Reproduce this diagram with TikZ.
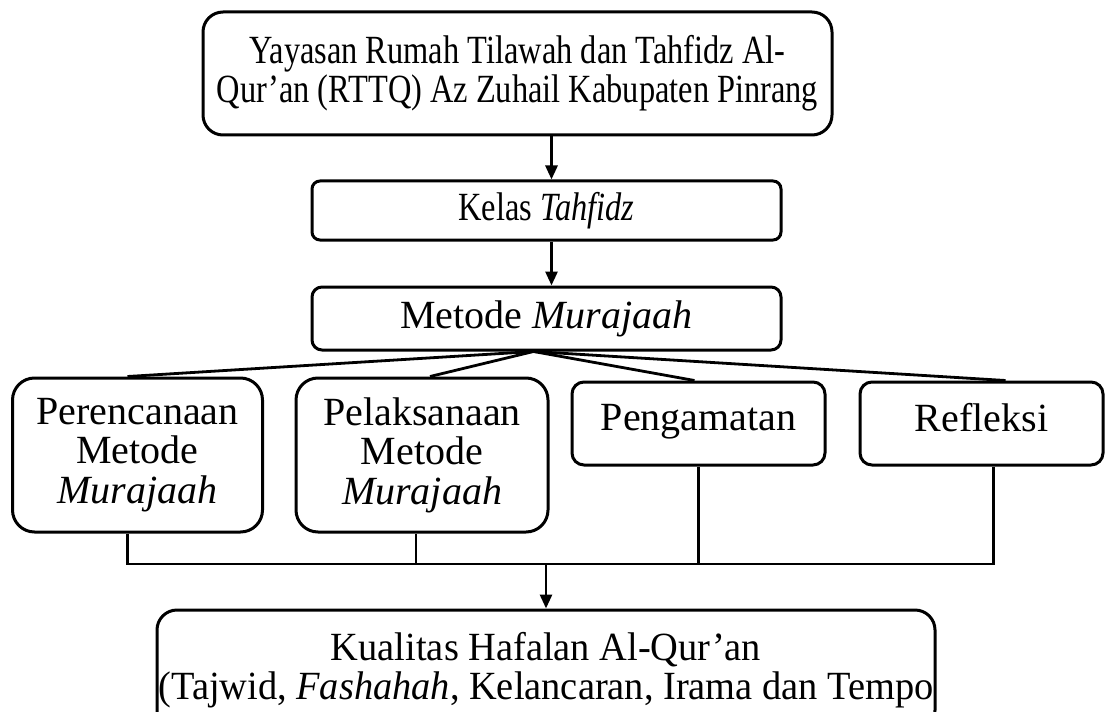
\documentclass[tikz,border=0pt]{standalone}
\usepackage{fontspec}
\setmainfont{Liberation Serif}
\newfontfamily\sempit[FakeStretch=0.81]{Liberation Serif}
\newfontfamily\agaksempit[FakeStretch=0.96]{Liberation Serif}
\usetikzlibrary{arrows.meta}

\tikzset{
  kotak/.style={draw=black, line width=1.5pt, inner sep=0pt, align=center,
    font=\fontsize{20pt}{19.75pt}\selectfont},
  garis/.style={black, line width=1.4pt},
  panah/.style={garis, -{Triangle[length=7pt,width=6pt]}},
}

\begin{document}
\begin{tikzpicture}[x=0.5pt,y=-0.5pt]
\useasboundingbox (0,0) rectangle (1106,711);
\node[kotak, rounded corners=10pt, minimum width=314.5pt, minimum height=61.5pt] (yayasan) at (517.5,73.5)
  {\sempit Yayasan Rumah Tilawah dan Tahfidz Al-\\\sempit Qur’an (RTTQ) Az Zuhail Kabupaten Pinrang\\[-15pt]};
\node[kotak, rounded corners=4pt, minimum width=234.5pt, minimum height=29.5pt] (kelas) at (546.5,210.5)
  {\sempit Kelas \textit{Tahfidz}};
\node[kotak, rounded corners=5pt, minimum width=234.5pt, minimum height=31.5pt] (metode) at (546.5,318.5)
  {Metode \textit{Murajaah}};
\node[kotak, rounded corners=11pt, minimum width=125pt, minimum height=77pt] (rencana) at (137.5,455)
  {Perencanaan\\Metode\\\textit{Murajaah}};
\node[kotak, rounded corners=11pt, minimum width=126pt, minimum height=77pt] (laksana) at (422,455)
  {Pelaksanaan\\Metode\\\textit{Murajaah}};
\node[kotak, rounded corners=6pt, minimum width=126.5pt, minimum height=41.5pt] (amat) at (698.5,423.5)
  {Pengamatan\\[-14pt]};
\node[kotak, rounded corners=6pt, minimum width=121.5pt, minimum height=41.5pt] (refleksi) at (981.5,423.5)
  {Refleksi\\[-14pt]};
\node[kotak, rounded corners=10pt, minimum width=389pt, minimum height=60pt] (hasil) at (546,670)
  {\agaksempit Kualitas Hafalan Al-Qur’an\\\agaksempit (Tajwid, \textit{Fashahah}, Kelancaran, Irama dan Tempo};
\coordinate (gabung) at (546,564);
\draw[panah] ([xshift=2.5pt]kelas.north |- yayasan.south) -- ([xshift=2.5pt]kelas.north);
\draw[panah] ([xshift=2.5pt]metode.north |- kelas.south) -- ([xshift=2.5pt]metode.north);
\draw[garis] ([xshift=-6.5pt]metode.south) -- ([xshift=-5pt]rencana.north);
\draw[garis] ([xshift=-6.5pt]metode.south) -- ([xshift=4pt]laksana.north);
\draw[garis] ([xshift=-6.5pt]metode.south) -- ([xshift=-2pt]amat.north);
\draw[garis] ([xshift=-6.5pt]metode.south) -- ([xshift=12pt]refleksi.north);
\draw[garis] ([xshift=-5pt]rencana.south) |- ([xshift=6pt]refleksi.south |- gabung) -- ([xshift=6pt]refleksi.south);
\draw[garis] ([xshift=-3pt]laksana.south) -- ([xshift=-3pt]laksana.south |- gabung);
\draw[garis] (amat.south) -- (amat.south |- gabung);
\draw[panah] (gabung) -- (hasil.north);
\end{tikzpicture}
\end{document}
